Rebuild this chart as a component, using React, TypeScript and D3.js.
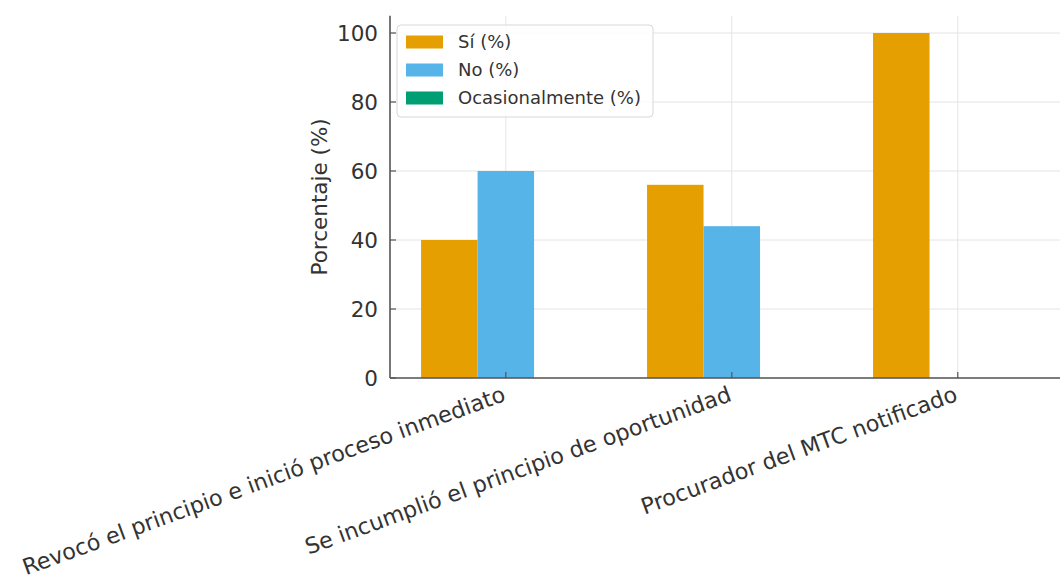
import React, { useEffect, useRef } from 'react';
import * as d3 from 'd3';

const categories = [
  'Revocó el principio e inició proceso inmediato',
  'Se incumplió el principio de oportunidad',
  'Procurador del MTC notificado',
];
const siValues = [40, 56, 100];
const noValues = [60, 44, 0];
const ocasionalValues = [0, 0, 0];
const seriesNames = ['Sí (%)', 'No (%)', 'Ocasionalmente (%)'];
const seriesColors = ['#E69F00', '#56B4E9', '#009E73'];
const yTicks = [0, 20, 40, 60, 80, 100];

const W = 1060;
const H = 582;
const FONT = '"DejaVu Sans", sans-serif';

const App: React.FC = () => {
  const chartRef = useRef<SVGSVGElement>(null);

  useEffect(() => {
    if (!chartRef.current) return;
    const svg = d3.select(chartRef.current);
    svg.selectAll('*').remove();

    const series = [siValues, noValues, ocasionalValues];
    const barW = 0.25;

    // same limits matplotlib would pick (5% margins)
    const x = d3.scaleLinear().domain([-0.5125, 2.5125]).range([390, 1073.6]);
    const y = d3.scaleLinear().domain([0, 105]).range([378, 15.75]);

    const g = svg.append('g');

    // grid
    g.selectAll('line.hgrid')
      .data(yTicks)
      .join('line')
      .attr('x1', x.range()[0])
      .attr('x2', W)
      .attr('y1', d => y(d))
      .attr('y2', d => y(d))
      .attr('stroke', '#e4e4e4')
      .attr('stroke-width', 1);

    g.selectAll('line.vgrid')
      .data(categories)
      .join('line')
      .attr('x1', (_, i) => x(i))
      .attr('x2', (_, i) => x(i))
      .attr('y1', y(0))
      .attr('y2', y(105))
      .attr('stroke', '#e4e4e4')
      .attr('stroke-width', 1);

    // bars
    series.forEach((vals, s) => {
      g.selectAll(`rect.s${s}`)
        .data(vals)
        .join('rect')
        .attr('x', (_, i) => x(i + (s - 1) * barW - barW / 2))
        .attr('width', x(barW) - x(0))
        .attr('y', d => y(d))
        .attr('height', d => y(0) - y(d))
        .attr('fill', seriesColors[s]);
    });

    // spines
    g.append('line')
      .attr('x1', x.range()[0]).attr('x2', x.range()[0])
      .attr('y1', y(0)).attr('y2', y(105))
      .attr('stroke', '#555').attr('stroke-width', 1.6);
    g.append('line')
      .attr('x1', x.range()[0]).attr('x2', W)
      .attr('y1', y(0)).attr('y2', y(0))
      .attr('stroke', '#555').attr('stroke-width', 1.6);

    // y ticks (inward)
    yTicks.forEach(t => {
      g.append('line')
        .attr('x1', x.range()[0]).attr('x2', x.range()[0] + 6)
        .attr('y1', y(t)).attr('y2', y(t))
        .attr('stroke', '#555').attr('stroke-width', 1.2);
      g.append('text')
        .attr('x', x.range()[0] - 12)
        .attr('y', y(t))
        .attr('dy', '0.36em')
        .attr('text-anchor', 'end')
        .style('font-family', FONT)
        .style('font-size', '21.5px')
        .attr('fill', '#333')
        .text(t);
    });

    // x ticks + rotated labels
    categories.forEach((c, i) => {
      g.append('line')
        .attr('x1', x(i)).attr('x2', x(i))
        .attr('y1', y(0)).attr('y2', y(0) - 6)
        .attr('stroke', '#555').attr('stroke-width', 1.2);
      const lx = x(i) - 5;
      const ly = y(0) + 6;
      g.append('text')
        .attr('transform', `translate(${lx},${ly}) rotate(-20)`)
        .attr('dy', '0.78em')
        .attr('text-anchor', 'end')
        .style('font-family', FONT)
        .style('font-size', '22.3px')
        .attr('fill', '#333')
        .text(c);
    });

    // y label
    g.append('text')
      .attr('transform', `translate(327,${(y(0) + y(105)) / 2}) rotate(-90)`)
      .attr('text-anchor', 'middle')
      .style('font-family', FONT)
      .style('font-size', '21.5px')
      .attr('fill', '#333')
      .text('Porcentaje (%)');

    // legend
    const leg = g.append('g').attr('transform', 'translate(397,25)');
    leg.append('rect')
      .attr('width', 256).attr('height', 92)
      .attr('rx', 4)
      .attr('fill', 'white').attr('fill-opacity', 0.85)
      .attr('stroke', '#d8d8d8');
    seriesNames.forEach((name, s) => {
      const cy = 17 + s * 28;
      leg.append('rect')
        .attr('x', 9).attr('y', cy - 6.5)
        .attr('width', 37).attr('height', 13)
        .attr('fill', seriesColors[s]);
      leg.append('text')
        .attr('x', 61).attr('y', cy)
        .attr('dy', '0.36em')
        .style('font-family', FONT)
        .style('font-size', '18px')
        .attr('fill', '#333')
        .text(name);
    });
  }, []);

  return (
    <svg
      ref={chartRef}
      width={W}
      height={H}
      style={{ position: 'absolute', left: 0, top: 0, background: 'white' }}
    />
  );
};

export default App;
